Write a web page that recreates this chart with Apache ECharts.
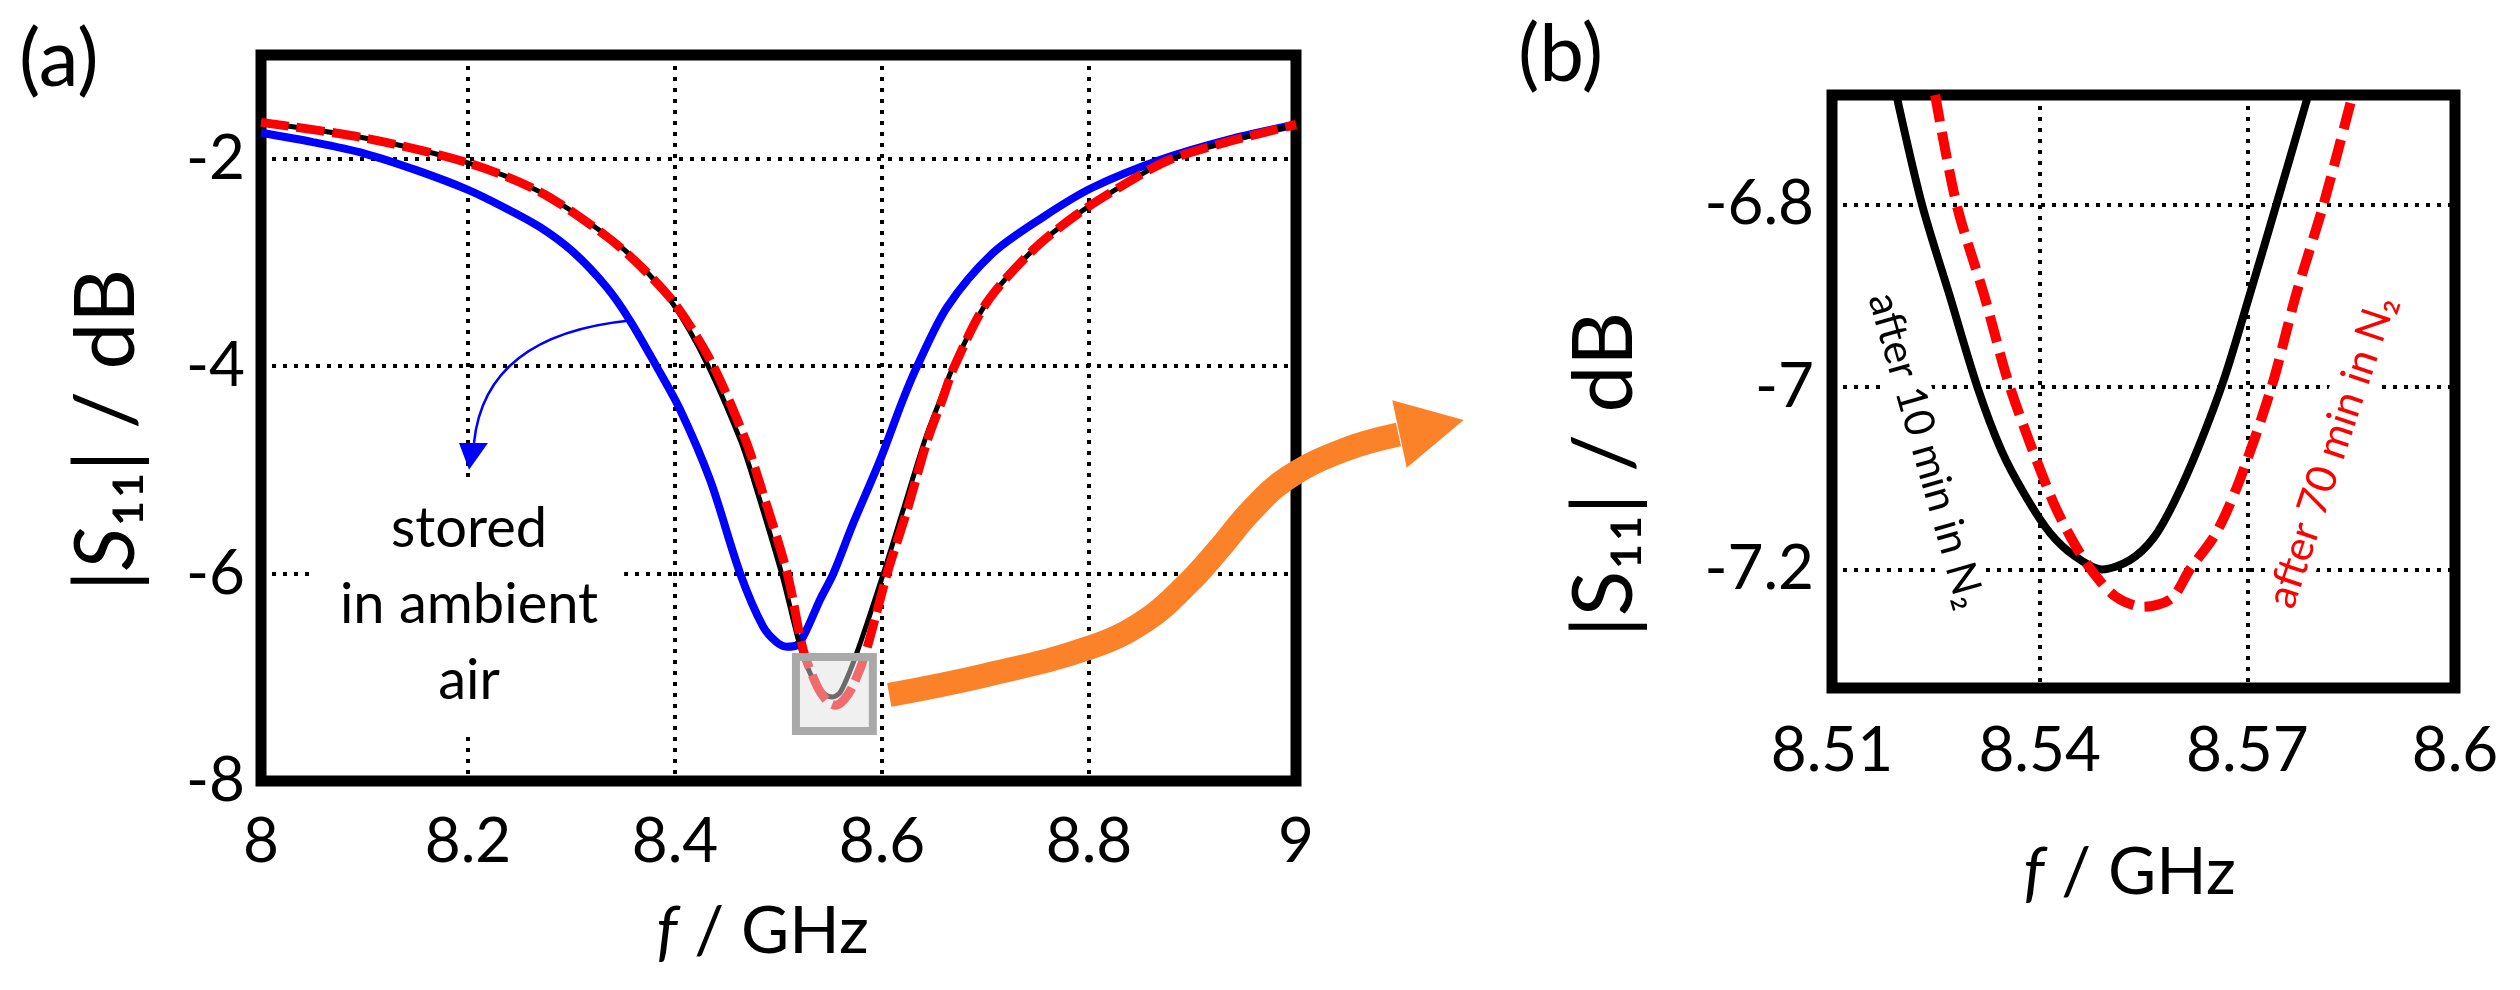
<!DOCTYPE html>
<html><head><meta charset="utf-8">
<script src="https://cdn.jsdelivr.net/npm/echarts@6/dist/echarts.min.js"></script>
<style>html,body{margin:0;padding:0;background:#fff}#c{width:2520px;height:990px}</style>
</head><body><div id="c"></div>
<script>
// ---------- Panel (a): full sweep ----------
const freqAirA = [8.00, 8.05, 8.10, 8.15, 8.20, 8.235, 8.2696, 8.3017, 8.334, 8.3565, 8.382, 8.405, 8.434, 8.463, 8.485, 8.498, 8.508, 8.518, 8.527, 8.54, 8.553, 8.572, 8.598, 8.62, 8.634, 8.663, 8.707, 8.756, 8.803, 8.869, 8.933, 9.00];
const s11AirA  = [-1.75, -1.84, -1.95, -2.11, -2.30, -2.47, -2.66, -2.90, -3.24, -3.56, -4.00, -4.42, -5.10, -6.00, -6.51, -6.66, -6.705, -6.69, -6.545, -6.255, -6.00, -5.52, -4.91, -4.33, -4.00, -3.43, -2.91, -2.56, -2.28, -2.01, -1.82, -1.67];

const freqN10A = [8.00, 8.10, 8.20, 8.2696, 8.334, 8.366, 8.398, 8.4306, 8.463, 8.476, 8.503, 8.522, 8.535, 8.545, 8.552, 8.56, 8.5755, 8.6013, 8.62, 8.6415, 8.656, 8.669, 8.701, 8.746, 8.788, 8.837, 8.878, 8.933, 9.00];
const s11N10A  = [-1.65, -1.80, -2.04, -2.32, -2.74, -3.02, -3.40, -3.97, -4.71, -5.10, -6.00, -6.74, -7.05, -7.165, -7.19, -7.14, -6.77, -6.00, -5.40, -4.71, -4.33, -4.00, -3.39, -2.88, -2.54, -2.23, -2.01, -1.84, -1.67];

const freqN70A = [8.00, 8.10, 8.20, 8.2696, 8.334, 8.366, 8.400, 8.4356, 8.468, 8.481, 8.5085, 8.524, 8.538, 8.548, 8.555, 8.563, 8.572, 8.584, 8.605, 8.624, 8.644, 8.658, 8.670, 8.701, 8.746, 8.788, 8.837, 8.878, 8.933, 9.00];
const s11N70A  = [-1.65, -1.80, -2.04, -2.32, -2.75, -3.03, -3.40, -3.97, -4.71, -5.10, -6.00, -6.74, -7.10, -7.24, -7.27, -7.22, -7.08, -6.77, -6.00, -5.40, -4.71, -4.33, -4.00, -3.39, -2.88, -2.54, -2.23, -2.01, -1.84, -1.67];

// ---------- Panel (b): zoom around the resonance ----------
const freqN10B = [8.5193, 8.523, 8.527, 8.531, 8.5345, 8.538, 8.5415, 8.545, 8.549, 8.553, 8.5565, 8.5595, 8.563, 8.5667, 8.5705, 8.5742, 8.5788];
const s11N10B  = [-6.68, -6.80, -6.90, -7.00, -7.07, -7.12, -7.16, -7.185, -7.20, -7.19, -7.165, -7.125, -7.065, -6.99, -6.895, -6.80, -6.68];

const freqN70B = [8.5249, 8.528, 8.532, 8.5357, 8.5416, 8.5445, 8.5474, 8.551, 8.555, 8.559, 8.5617, 8.5655, 8.569, 8.5735, 8.577, 8.581, 8.5852];
const s11N70B  = [-6.68, -6.80, -6.90, -7.00, -7.12, -7.165, -7.20, -7.23, -7.241, -7.232, -7.20, -7.16, -7.10, -7.00, -6.90, -6.80, -6.68];

// ---------- Axis ticks ----------
const xTicksA = [8, 8.2, 8.4, 8.6, 8.8, 9];
const yTicksA = [-8, -6, -4, -2];
const xTicksB = [8.51, 8.54, 8.57, 8.6];
const yTicksB = [-7.2, -7, -6.8];

// ---------- Annotation texts ----------
const labelAir = 'stored\nin ambient\nair';
const labelN10 = 'after 10 min in N₂';
const labelN70 = 'after 70 min in N₂';

const pairs = (xs, ys) => xs.map((x, i) => [x, ys[i]]);
const FONT = 'Lato, "Open Sans", sans-serif';

const chart = echarts.init(document.getElementById('c'), null, {renderer: 'canvas'});

const grid = (l, t, w, h) => ({left: l, top: t, width: w, height: h, show: true,
  borderColor: '#000', borderWidth: 11, backgroundColor: 'transparent', containLabel: false});

const splitLine = {show: true, lineStyle: {color: '#000', width: 4, type: [4, 7]}};
const lbl = (margin, extra) => Object.assign({color: '#000', fontSize: 62, fontFamily: FONT, margin: margin}, extra || {});
const SM = 0.3;

chart.setOption({
  animation: false,
  backgroundColor: '#fff',
  grid: [grid(261, 55, 1035, 726), grid(1832, 95, 623, 593)],
  xAxis: [
    {type: 'value', gridIndex: 0, min: 8, max: 9,
     axisLine: {show: false}, axisTick: {show: false, customValues: xTicksA},
     axisLabel: lbl(30, {customValues: xTicksA}), splitLine: splitLine,
     name: '{i|f} / GHz', nameLocation: 'middle', nameGap: 118,
     nameTextStyle: {color: '#000', fontSize: 66, fontFamily: FONT, padding: [0, 32, 0, 0],
       rich: {i: {fontStyle: 'italic', fontSize: 66, fontFamily: FONT, color: '#000'}}}},
    {type: 'value', gridIndex: 1, min: 8.51, max: 8.6,
     axisLine: {show: false}, axisTick: {show: false, customValues: xTicksB},
     axisLabel: lbl(32, {customValues: xTicksB}), splitLine: splitLine,
     name: '{i|f} / GHz', nameLocation: 'middle', nameGap: 152,
     nameTextStyle: {color: '#000', fontSize: 66, fontFamily: FONT, padding: [0, 28, 0, 0],
       rich: {i: {fontStyle: 'italic', fontSize: 66, fontFamily: FONT, color: '#000'}}}}
  ],
  yAxis: [
    {type: 'value', gridIndex: 0, min: -8, max: -1,
     axisLine: {show: false}, axisTick: {show: false, customValues: yTicksA},
     axisLabel: lbl(16, {customValues: yTicksA, padding: [12, 0, 0, 0]}), splitLine: splitLine,
     name: '|{i|S}₁₁| / dB', nameLocation: 'middle', nameGap: 112,
     nameTextStyle: {color: '#000', fontSize: 84, fontFamily: FONT, padding: [0, 24, 0, 0],
       rich: {i: {fontStyle: 'italic', fontSize: 84, fontFamily: FONT, color: '#000'}}}},
    {type: 'value', gridIndex: 1, min: -7.33, max: -6.68,
     axisLine: {show: false}, axisTick: {show: false, customValues: yTicksB},
     axisLabel: lbl(18, {customValues: yTicksB, padding: [12, 0, 0, 0]}), splitLine: splitLine,
     name: '|S₁₁| / dB', nameLocation: 'middle', nameGap: 185,
     nameTextStyle: {color: '#000', fontSize: 84, fontFamily: FONT, padding: [0, 166, 0, 0]}}
  ],
  series: [
    {type: 'line', xAxisIndex: 0, yAxisIndex: 0, data: pairs(freqAirA, s11AirA), showSymbol: false,
     smooth: SM, clip: true, lineStyle: {color: '#0000ff', width: 8}},
    {type: 'line', xAxisIndex: 0, yAxisIndex: 0, data: pairs(freqN10A, s11N10A), showSymbol: false,
     smooth: SM, clip: true, lineStyle: {color: '#000', width: 5}},
    {type: 'line', xAxisIndex: 0, yAxisIndex: 0, data: pairs(freqN70A, s11N70A), showSymbol: false,
     smooth: SM, clip: true, lineStyle: {color: '#ff0000', width: 9, type: [28, 8]}},
    {type: 'line', xAxisIndex: 1, yAxisIndex: 1, data: pairs(freqN10B, s11N10B), showSymbol: false,
     smooth: SM, clip: true, lineStyle: {color: '#000', width: 8}},
    {type: 'line', xAxisIndex: 1, yAxisIndex: 1, data: pairs(freqN70B, s11N70B), showSymbol: false,
     smooth: SM, clip: true, lineStyle: {color: '#ff0000', width: 10, type: [27, 11]}}
  ]
});

// ---------- annotations placed in data coordinates ----------
const pa = (f, v) => chart.convertToPixel({gridIndex: 0}, [f, v]);
const pb = (f, v) => chart.convertToPixel({gridIndex: 1}, [f, v]);

const arrowStart = pa(8.3565, -3.56), arrowCtrl = pa(8.2164, -3.70), arrowEnd = pa(8.2058, -4.74);
const headA = [pa(8.1913, -4.74), pa(8.2193, -4.74), pa(8.2010, -5.00)];
const textAir = pa(8.201, -6.30);
const boxTL = pa(8.513, -6.767), boxBR = pa(8.595, -7.557);
const orangePts = [[8.607, -7.17], [8.700, -6.98], [8.802, -6.71], [8.855, -6.45], [8.896, -6.09],
  [8.925, -5.77], [8.957, -5.39], [8.993, -5.07], [9.046, -4.81], [9.099, -4.66]].map(p => pa(p[0], p[1]));
const orangeHead = [pa(9.093, -4.33), pa(9.162, -4.52), pa(9.107, -4.98)];
const tN10 = pb(8.5236, -7.070), tN70 = pb(8.5822, -7.071);

chart.setOption({
  graphic: [
    {type: 'text', x: 19, y: 60, z: 5, style: {text: '(a)', fontSize: 80, fontFamily: FONT, fill: '#000', align: 'left', verticalAlign: 'middle'}},
    {type: 'text', x: 1518, y: 55, z: 5, style: {text: '(b)', fontSize: 80, fontFamily: FONT, fill: '#000', align: 'left', verticalAlign: 'middle'}},
    {type: 'text', x: textAir[0], y: textAir[1], z: 1,
     style: {text: labelAir, fontSize: 56, lineHeight: 76, fontFamily: FONT, fill: '#000', align: 'center', verticalAlign: 'middle',
       backgroundColor: '#fff', padding: [12, 26]}},
    {type: 'bezierCurve', z: 3, shape: {x1: arrowStart[0], y1: arrowStart[1], cpx1: arrowCtrl[0], cpy1: arrowCtrl[1], x2: arrowEnd[0], y2: arrowEnd[1]},
     style: {stroke: '#0000ff', lineWidth: 2.5, fill: null}},
    {type: 'polygon', z: 3, shape: {points: headA}, style: {fill: '#0000ff'}},
    {type: 'rect', z: 10, shape: {x: boxTL[0] + 4, y: boxTL[1] + 4, width: boxBR[0] - boxTL[0] - 8, height: boxBR[1] - boxTL[1] - 8},
     style: {fill: 'rgba(224,224,224,0.48)', stroke: '#a9a9a9', lineWidth: 8}},
    {type: 'polyline', z: 10, shape: {points: orangePts, smooth: 0.4},
     style: {stroke: '#fb8228', lineWidth: 24, fill: null, lineCap: 'butt'}},
    {type: 'polygon', z: 10, shape: {points: orangeHead}, style: {fill: '#fb8228'}},
    {type: 'text', x: tN10[0], y: tN10[1], rotation: -74 * Math.PI / 180, z: 1,
     style: {text: labelN10, fontSize: 42, fontFamily: FONT, fill: '#000', align: 'center', verticalAlign: 'middle',
       backgroundColor: '#fff', padding: [2, 8]}},
    {type: 'text', x: tN70[0], y: tN70[1], rotation: 71.5 * Math.PI / 180, z: 1,
     style: {text: labelN70, fontSize: 42, fontFamily: FONT, fill: '#ff0000', align: 'center', verticalAlign: 'middle',
       backgroundColor: '#fff', padding: [2, 8]}}
  ]
});
</script></body></html>
